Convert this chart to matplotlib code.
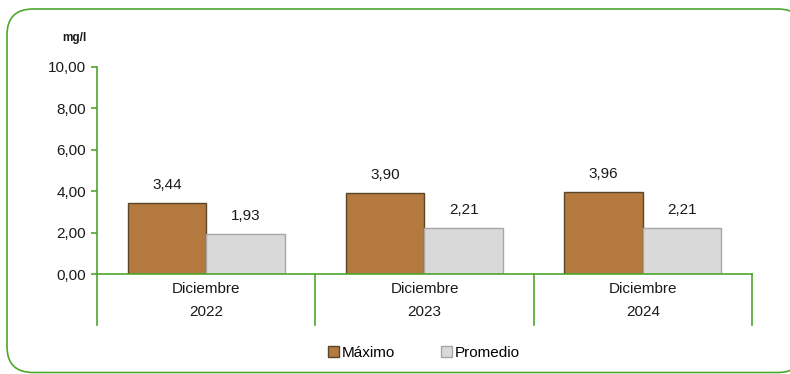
import matplotlib
matplotlib.use("Agg")
import matplotlib.pyplot as plt
from matplotlib.patches import FancyBboxPatch
from matplotlib import font_manager
import numpy as np

months = ["Diciembre", "Diciembre", "Diciembre"]
years = ["2022", "2023", "2024"]
maximo = [3.44, 3.90, 3.96]
promedio = [1.93, 2.21, 2.21]
yticks = [0, 2, 4, 6, 8, 10]
series_names = ["Máximo", "Promedio"]

avail = {f.name for f in font_manager.fontManager.ttflist}
fam = "Liberation Sans Narrow" if "Liberation Sans Narrow" in avail else "Liberation Sans"
plt.rcParams['font.family'] = [fam, 'DejaVu Sans']
FS = 11

GREEN = "#4EA72E"
W, H = 790, 374
fig = plt.figure(figsize=(W/100, H/100), dpi=100)

# background frame
bg = fig.add_axes([0, 0, 1, 1])
bg.set_xlim(0, W)
bg.set_ylim(H, 0)
bg.axis('off')
bg.add_patch(FancyBboxPatch((7, 9), 797, 363.5, boxstyle="round,pad=0,rounding_size=26",
                            fc="white", ec=GREEN, lw=1.2))

left, right, top, bottom = 97, 752, 67, 274
ax = fig.add_axes([left/W, 1-bottom/H, (right-left)/W, (bottom-top)/H])
ax.patch.set_alpha(0)

x = np.arange(len(years))
bw = 0.36
b1 = ax.bar(x - bw/2, maximo, bw, color="#B3793E", edgecolor="#5A4526", lw=1.0, label=series_names[0])
b2 = ax.bar(x + bw/2, promedio, bw, color="#D9D9D9", edgecolor="#A6A6A6", lw=1.0, label=series_names[1])

for rects, vals in ((b1, maximo), (b2, promedio)):
    for r, v in zip(rects, vals):
        ax.annotate(f"{v:.2f}".replace(".", ","), (r.get_x()+r.get_width()/2, v),
                    xytext=(0, 8), textcoords="offset points", ha="center", va="bottom",
                    fontsize=FS, color="#1a1a1a")

ax.set_xlim(-0.5, len(years)-0.5)
ax.set_ylim(0, 10)
ax.set_yticks(yticks)
ax.set_yticklabels([f"{t:.2f}".replace(".", ",") for t in yticks], fontsize=FS, color="#1a1a1a")
ax.tick_params(axis='y', length=4, color=GREEN, width=1.2, pad=4)
ax.set_xticks([])
for s in ("top", "right"):
    ax.spines[s].set_visible(False)
ax.spines["left"].set_color(GREEN)
ax.spines["bottom"].set_color(GREEN)
ax.spines["left"].set_linewidth(1.2)
ax.spines["bottom"].set_linewidth(1.2)

ext = (325 - bottom) / (bottom - top)
for b in np.arange(len(years)+1) - 0.5:
    ax.plot([b, b], [0, -ext], transform=ax.get_xaxis_transform(), color=GREEN, lw=1.2, clip_on=False)
for i in range(len(years)):
    ax.text(i, -(289-bottom)/(bottom-top), months[i], transform=ax.get_xaxis_transform(),
            ha="center", va="center", fontsize=FS, color="#1a1a1a")
    ax.text(i, -(312-bottom)/(bottom-top), years[i], transform=ax.get_xaxis_transform(),
            ha="center", va="center", fontsize=FS, color="#1a1a1a")

fig.text(74/W, 1-38/H, "mg/l", ha="center", va="center", fontsize=8.5, fontweight="bold", color="#1a1a1a")

fig.legend(handles=[b1, b2], labels=series_names, loc="center", bbox_to_anchor=(424/W, 1-353/H),
           ncol=2, frameon=False, fontsize=FS, handlelength=0.7, handleheight=0.7,
           handletextpad=0.2, columnspacing=3.0)

fig.savefig("out.png", dpi=100)
